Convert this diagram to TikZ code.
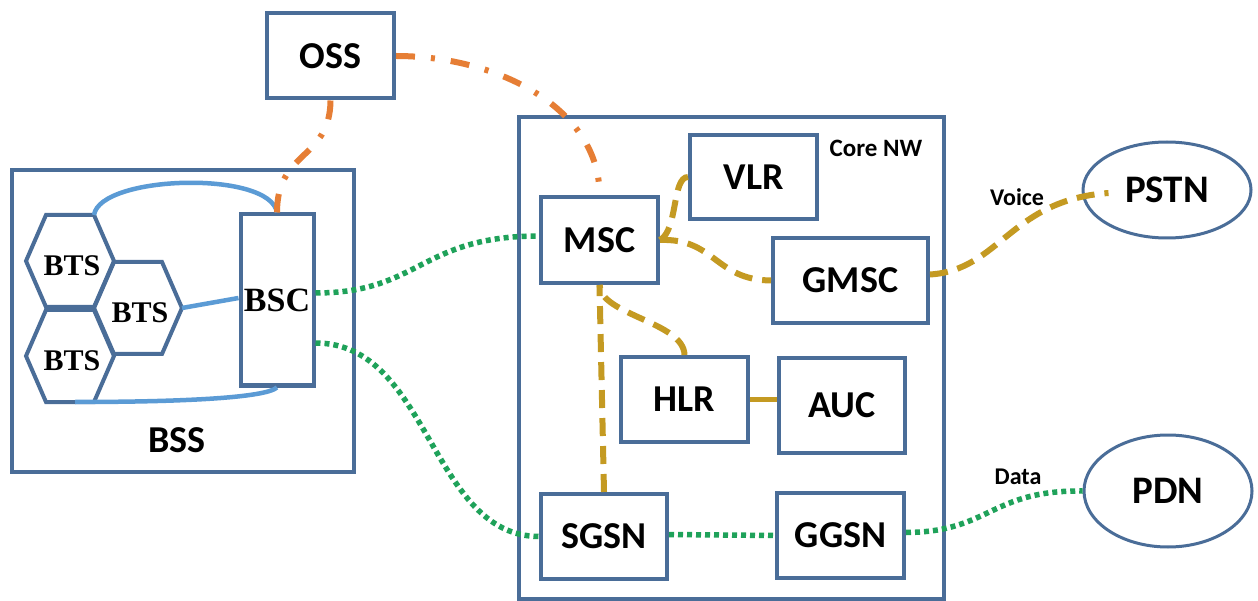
\documentclass[tikz,border=0pt]{standalone}
\usepackage{fontspec}
\setmainfont{Carlito}
\newfontfamily\timesfont{Liberation Serif}
\usetikzlibrary{calc,shapes.geometric}

\definecolor{frame}{HTML}{4A6D98}
\definecolor{btslink}{HTML}{5B9BD5}
\definecolor{mgmt}{HTML}{E67E35}
\definecolor{voice}{HTML}{C49A22}
\definecolor{data}{HTML}{1FA25A}

\tikzset{
  unit/.style={draw=frame, line width=4pt, fill=white, inner sep=0pt,
    font=\bfseries\fontsize{38}{40}\selectfont},
  network/.style={ellipse, draw=frame, line width=3pt, fill=white, inner sep=0pt,
    font=\bfseries\fontsize{39}{41}\selectfont},
  container/.style={draw=frame, line width=4.5pt},
  cell/.style={draw=frame, line width=4pt, line join=miter},
  celltext/.style={font=\timesfont\bfseries\fontsize{30}{32}\selectfont},
  radio/.style={draw=btslink, line width=4.5pt},
  oam/.style={draw=mgmt, line width=6pt, dash pattern=on 19pt off 16pt on 4pt off 16pt},
  circuit/.style={draw=voice, line width=6pt, dash pattern=on 18pt off 10pt},
  packet/.style={draw=data, line width=5.5pt, dash pattern=on 5pt off 4pt},
  tag/.style={font=\bfseries\fontsize{24}{26}\selectfont}
}

% hexagonal BTS cell: centre x, centre y, name
\newcommand\btscell[3]{%
  \draw[cell] ({#1-44},#2) -- ({#1-24},{#2-46}) -- ({#1+24},{#2-46})
    -- ({#1+44},#2) -- ({#1+24},{#2+46}) -- ({#1-24},{#2+46}) -- cycle;
  \node[celltext] (#3) at ({#1+2},{#2+5}) {BTS};
  \coordinate (#3-ne) at ({#1+24},{#2-46});
  \coordinate (#3-e) at ({#1+44},#2);
  \coordinate (#3-s) at ({#1+5},{#2+46});
}

\begin{document}
\begin{tikzpicture}[x=1pt,y=-1pt]
\useasboundingbox (0,0) rectangle (1258,601);
\fill[white] (0,0) rectangle (1258,601);

% subsystem frames
\draw[container] (12,170) rectangle (354,472);
\draw[container] (519,117) rectangle (944,599);
\node[font=\bfseries\fontsize{38}{40}\selectfont] (bsslabel) at (177,440) {BSS};
\node[font=\bfseries\fontsize{25}{27}\selectfont] (corelabel) at (876,148) {Core NW};

% radio cells
\btscell{70}{261}{bts1}
\btscell{138}{308}{bts2}
\btscell{70}{356}{bts3}

% network elements
\node[unit, minimum width=73pt, minimum height=171pt,
      font=\timesfont\bfseries\fontsize{34}{36}\selectfont] (bsc) at (277,300) {\raisebox{-4pt}{BSC}};
\node[unit, minimum width=127pt, minimum height=85pt] (oss) at (330.5,56) {OSS};
\node[unit, minimum width=127pt, minimum height=84pt] (vlr) at (753.5,177) {VLR};
\node[unit, minimum width=117pt, minimum height=86pt] (msc) at (599.5,240) {MSC};
\node[unit, minimum width=155pt, minimum height=85pt] (gmsc) at (850.5,280.5) {GMSC};
\node[unit, minimum width=127pt, minimum height=85pt] (hlr) at (684.5,399.5) {HLR};
\node[unit, minimum width=126pt, minimum height=95pt] (auc) at (842,405.5) {AUC};
\node[unit, minimum width=126pt, minimum height=85pt] (sgsn) at (604,536.5) {SGSN};
\node[unit, minimum width=127pt, minimum height=85pt] (ggsn) at (840.5,535.5) {GGSN};
\node[network, minimum width=168pt, minimum height=96pt] (pstn) at (1167,190) {PSTN};
\node[network, minimum width=168pt, minimum height=112pt] (pdn) at (1168,491) {PDN};

\coordinate (voiceend) at ($(pstn.west)+(27,3)$);

% BTS to BSC links
\draw[radio] (bts1-ne) .. controls (100,175) and (270,170) .. (bsc.north);
\draw[radio] (bts2-e) -- ([yshift=2pt]bsc.west);
\draw[radio] (bts3-s) .. controls (180,402) and (265,398) .. (bsc.south);

% operation and maintenance
\draw[oam] (oss.south) .. controls (330,160) and (277,150) .. (bsc.north);
\draw[oam] (oss.east) .. controls (500,56) and (600,110) .. (msc.north);

% circuit switched signalling
\draw[circuit] (vlr.west) .. controls (672,177) and (678,230) .. (msc.east);
\draw[circuit] (msc.east) .. controls (715,238) and (715,280) .. (gmsc.west);
\draw[circuit] (hlr.north) .. controls (684,322) and (600,315) .. (msc.south);
\draw[circuit] (sgsn.north) -- (msc.south);
\draw[draw=voice, line width=5pt] (hlr.east) -- (hlr.east -| auc.west);
\draw[circuit] ([yshift=6pt]gmsc.east) .. controls (1000,270) and (1010,200) .. (voiceend);
\node[tag] (voicelabel) at (1017,197) {Voice};

% packet data paths
\draw[packet] ([yshift=7pt]bsc.east) .. controls (420,293) and (420,236) .. ([yshift=4pt]msc.west);
\draw[packet] ([yshift=-43pt]bsc.east) .. controls (430,343) and (430,536) .. (sgsn.west);
\draw[packet] ([yshift=2pt]sgsn.east) -- (ggsn.west);
\draw[packet] ([yshift=3pt]ggsn.east) .. controls (990,532) and (990,490) .. (pdn.west);
\node[tag] (datalabel) at (1018,477) {Data};
\end{tikzpicture}
\end{document}
